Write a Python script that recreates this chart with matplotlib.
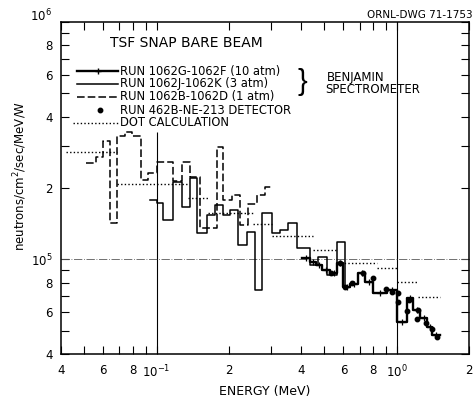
import numpy as np
import matplotlib
matplotlib.use("Agg")
import matplotlib.pyplot as plt
from matplotlib.ticker import LogLocator, FuncFormatter

plt.rcParams["font.family"] = ["DejaVu Sans"]
plt.rcParams["mathtext.default"] = "regular"

# RUN 1062B-1062D (1 atm), histogram bin edges (MeV) and flux
run_1atm_edges = [0.0508, 0.0560, 0.0598, 0.0640, 0.0684, 0.0739, 0.0790, 0.0862,
                  0.0921, 0.1004, 0.1171, 0.1277, 0.1378, 0.1517, 0.1786, 0.1891,
                  0.2062, 0.2227, 0.2404, 0.2620, 0.2830, 0.3026]
run_1atm_flux = [2.55e5, 2.70e5, 3.15e5, 1.42e5, 3.31e5, 3.45e5, 3.31e5, 2.16e5,
                 2.31e5, 2.57e5, 2.14e5, 2.57e5, 2.23e5, 1.36e5, 2.98e5, 1.78e5,
                 1.87e5, 1.40e5, 1.71e5, 1.87e5, 2.02e5]

# RUN 1062J-1062K (3 atm)
run_3atm_edges = [0.0939, 0.1004, 0.1064, 0.1171, 0.1277, 0.1378, 0.1474, 0.1622,
                  0.1752, 0.1891, 0.2023, 0.2184, 0.2381, 0.2571, 0.2750, 0.3026,
                  0.3268, 0.3528, 0.3846, 0.4356, 0.4703, 0.5129, 0.5643, 0.6094,
                  0.6392]
run_3atm_flux = [1.78e5, 1.73e5, 1.47e5, 2.12e5, 1.66e5, 2.20e5, 1.29e5, 1.54e5,
                 1.70e5, 1.54e5, 1.62e5, 1.15e5, 1.31e5, 7.44e4, 1.57e5, 1.29e5,
                 1.33e5, 1.42e5, 1.12e5, 9.5e4, 1.02e5, 8.6e4, 1.19e5, 7.66e4]

# RUN 1062G-1062F (10 atm)
run_10atm_edges = [0.4034, 0.4356, 0.4612, 0.4887, 0.5278, 0.5643, 0.5979, 0.6392,
                   0.6903, 0.7381, 0.7972, 0.9116, 1.0032, 1.104, 1.170, 1.251,
                   1.338, 1.404, 1.516]
run_10atm_flux = [1.01e5, 9.76e4, 9.48e4, 9.03e4, 8.77e4, 9.67e4, 7.66e4, 7.88e4,
                  8.77e4, 8.04e4, 7.23e4, 7.44e4, 5.45e4, 6.88e4, 6.13e4, 5.67e4,
                  5.2e4, 4.81e4]

# RUN 462B NE-213 detector points
ne213_energy = [0.533, 0.581, 0.609, 0.652, 0.724, 0.797, 0.903, 0.956, 1.013,
                1.013, 1.104, 1.126, 1.215, 1.227, 1.325, 1.404, 1.473]
ne213_flux = [8.77e4, 9.67e4, 7.66e4, 7.96e4, 8.77e4, 8.36e4, 7.51e4, 7.30e4,
              7.23e4, 6.62e4, 6.07e4, 6.75e4, 5.62e4, 6.13e4, 5.40e4, 5.10e4,
              4.72e4]

# DOT calculation (group fluxes)
dot_edges = [0.042, 0.0684, 0.1352, 0.1638, 0.2522, 0.3026, 0.4483, 0.5643,
             0.8282, 1.003, 1.227, 1.516]
dot_flux = [2.84e5, 2.08e5, 1.82e5, 1.57e5, 1.41e5, 1.26e5, 1.10e5, 9.67e4,
            9.21e4, 8.04e4, 6.95e4]

legend_labels = ["RUN 1062G-1062F (10 atm)", "RUN 1062J-1062K (3 atm)",
                 "RUN 1062B-1062D (1 atm)", "RUN 462B-NE-213 DETECTOR",
                 "DOT CALCULATION"]


def step_xy(edges, values):
    x = np.repeat(edges, 2)[1:-1]
    y = np.repeat(values, 2)
    return x, y


def step_xy_mid(edges, values):
    """Step outline with an extra vertex at each bin centre for markers."""
    xs, ys, mids = [], [], []
    for i, v in enumerate(values):
        e0, e1 = edges[i], edges[i + 1]
        xs += [e0, np.sqrt(e0 * e1), e1]
        ys += [v, v, v]
        mids.append(len(xs) - 2)
    return xs, ys, mids


K = "black"
style_10 = dict(color=K, lw=1.7, ls="-")
style_3 = dict(color=K, lw=1.1, ls="-")
style_1 = dict(color=K, lw=1.1, ls=(0, (5, 2)))
style_dot = dict(color=K, lw=1.0, ls=(0, (1, 1.6)))

fig = plt.figure(figsize=(4.75, 4.0), dpi=100)
ax = fig.add_axes([61 / 475, 1 - 354 / 400, 408 / 475, 332 / 400])
ax.set_xscale("log")
ax.set_yscale("log")
ax.set_xlim(0.04, 2.0)
ax.set_ylim(4e4, 1e6)

# decade grid lines of the original drawing
ax.vlines(0.1, 4e4, 3.45e5, color=K, lw=0.8)
ax.axvline(1.0, color=K, lw=0.8)
ax.axhline(1e5, color="0.35", lw=0.6, ls=(0, (10, 2, 1, 2)))

x, y = step_xy(run_1atm_edges, run_1atm_flux)
ax.plot(x, y, **style_1)
x, y = step_xy(run_3atm_edges, run_3atm_flux)
ax.plot(x, y, **style_3)
x, y, mids = step_xy_mid(run_10atm_edges, run_10atm_flux)
ax.plot(x, y, **style_10, marker="+", ms=4, mew=0.9, markevery=mids)
ax.plot(ne213_energy, ne213_flux, "o", color=K, ms=3.2, ls="none")
ax.hlines(dot_flux, dot_edges[:-1], dot_edges[1:], **style_dot)

# ticks
for axis in (ax.xaxis, ax.yaxis):
    axis.set_major_locator(LogLocator(base=10))
    axis.set_minor_locator(LogLocator(base=10, subs=np.arange(2, 10), numticks=20))


def major_fmt(v, pos):
    e = int(round(np.log10(v)))
    if e == 6:
        return ""
    return "10$^{%d}$" % e


def minor_fmt(v, pos):
    d = int(round(v / 10 ** np.floor(np.log10(v) + 1e-9)))
    return str(d) if d in (2, 4, 6, 8) else ""


for axis in (ax.xaxis, ax.yaxis):
    axis.set_major_formatter(FuncFormatter(major_fmt))
    axis.set_minor_formatter(FuncFormatter(minor_fmt))

ax.tick_params(which="both", direction="in", length=6, width=0.8,
               top=True, right=True, labelsize=8.5)
ax.tick_params(axis="x", which="both", pad=7)
ax.tick_params(axis="y", which="both", pad=6)
for s in ax.spines.values():
    s.set_linewidth(1.1)

ax.text(-9 / 408, 1 + 6 / 332, "10$^{6}$", transform=ax.transAxes,
        ha="right", va="center", fontsize=8.5)

# axis titles
ax.text(0.5, -0.114, "ENERGY (MeV)", transform=ax.transAxes,
        ha="center", va="center", fontsize=9)
ax.text(-0.1, 0.536, "neutrons/cm$^{2}$/sec/MeV/W", transform=ax.transAxes,
        rotation=90, ha="center", va="center", fontsize=8.5)

# legend block drawn like the original lettering
ax.text(0.1201, 0.9367, "TSF SNAP BARE BEAM", transform=ax.transAxes,
        ha="left", va="center", fontsize=10)
row_y = [0.8524, 0.8133, 0.7741, 0.7349, 0.6958]
x0, x1, xt = 0.039, 0.140, 0.1446
kw = dict(transform=ax.transAxes, clip_on=False)
ax.plot([x0, x1], [row_y[0]] * 2, **style_10, **kw)
ax.plot([(x0 + x1) / 2], [row_y[0]], "+", color=K, ms=5, mew=1.0, **kw)
ax.plot([x0, x1], [row_y[1]] * 2, **style_3, **kw)
ax.plot([x0, x1], [row_y[2]] * 2, **style_1, **kw)
ax.plot([0.0956], [row_y[3]], "o", color=K, ms=3.2, **kw)
ax.plot([0.0294, x1], [row_y[4]] * 2, **style_dot, **kw)
for yy, lab in zip(row_y, legend_labels):
    ax.text(xt, yy, lab, transform=ax.transAxes, ha="left", va="center",
            fontsize=8.3)

ax.text(0.5907, 0.8193, "}", transform=ax.transAxes, ha="center", va="center",
        fontsize=21, family="Liberation Sans")
ax.text(0.7230, 0.8343, "BENJAMIN", transform=ax.transAxes, ha="center",
        va="center", fontsize=8.5)
ax.text(0.7647, 0.7952, "SPECTROMETER", transform=ax.transAxes, ha="center",
        va="center", fontsize=8.5)

fig.text(0.994, 0.9625, "ORNL-DWG 71-1753", ha="right", va="center",
         fontsize=7.5)

fig.savefig("out.png", dpi=100)
